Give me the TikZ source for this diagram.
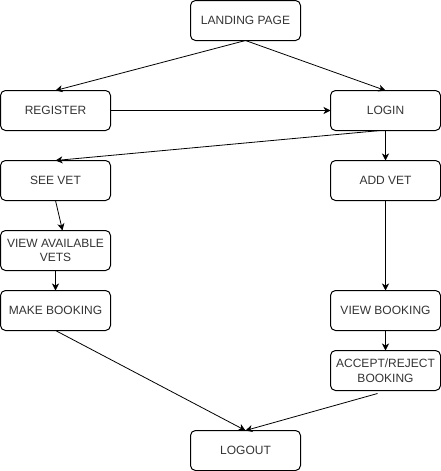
\documentclass[tikz,border=0pt]{standalone}
\usepackage{fontspec}
\setmainfont{Liberation Sans}
\usetikzlibrary{arrows.meta,positioning}
\definecolor{txtC}{HTML}{333333}

\begin{document}
\begin{tikzpicture}[x=1pt,y=1pt,node distance=30pt,
  pg/.style={draw,rounded corners=5pt,line width=1pt,outer sep=0pt,minimum width=110pt,minimum height=40pt,
    inner sep=2pt,align=center,text=txtC,font=\fontsize{12}{14.5}\selectfont},
  ar/.style={line width=0.8pt,-{Stealth[length=7pt,width=7pt,inset=2pt]}}]
\useasboundingbox (0,0) rectangle (441,-471);
\node[pg] (land) at (245.5,-20.5) {LANDING PAGE};
\node[pg] (reg) at (55.5,-110.5) {REGISTER};
\node[pg,right=220pt of reg] (login) {LOGIN};
\node[pg,below=of reg] (see) {SEE VET};
\node[pg,below=of see] (avail) {VIEW AVAILABLE\\VETS};
\node[pg,below=20pt of avail] (make) {MAKE BOOKING};
\node[pg,below=of login] (add) {ADD VET};
\node[pg,below=90pt of add] (view) {VIEW BOOKING};
\node[pg,below=20pt of view] (acc) {ACCEPT/REJECT\\BOOKING};
\node[pg] (out) at (245.5,-450.5) {LOGOUT};
\draw[ar] (land.south) -- (reg.north);
\draw[ar] (land.south) -- (login.north);
\draw[ar] (reg) -- (login);
\draw[ar] ([xshift=-5pt]login.south) -- (see.north);
\draw[ar] (login) -- (add);
\draw[ar] (see.south) -- ([xshift=7pt]avail.north);
\draw[ar] (avail) -- (make);
\draw[ar] (make.south) -- (out.north);
\draw[ar] (add) -- (view);
\draw[ar] (view) -- (acc);
\draw[ar] ([xshift=-8pt,yshift=-3pt]acc.south) -- (out.north);
\end{tikzpicture}
\end{document}
